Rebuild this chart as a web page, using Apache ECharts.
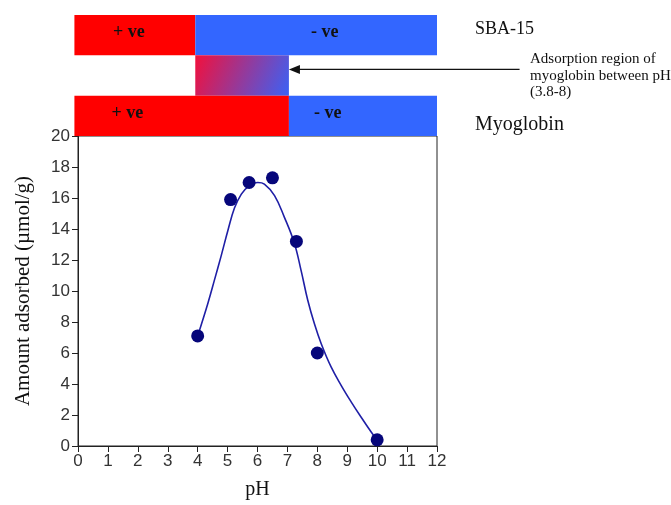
<!DOCTYPE html>
<html>
<head>
<meta charset="utf-8">
<script src="https://cdn.jsdelivr.net/npm/echarts@6/dist/echarts.min.js"></script>
<style>
  html, body { margin: 0; padding: 0; background: #fff; }
  #chart { width: 671px; height: 505px; }
</style>
</head>
<body>
<div id="chart"></div>
<script>
// measured points (pH, amount adsorbed)
const pointsPH = [4.0, 5.1, 5.72, 6.5, 7.3, 8.0, 10.0];
const pointsAmount = [7.1, 15.9, 17.0, 17.3, 13.2, 6.0, 0.4];

// fitted curve
const curvePH = [4.0, 4.34, 4.56, 4.79, 5.01, 5.23, 5.46, 5.68, 6.01, 6.23, 6.57, 6.9, 7.23, 7.46, 7.68, 7.9, 8.13, 8.46, 8.8, 9.13, 9.46, 9.8, 10.0];
const curveAmount = [7.1, 9.2, 10.7, 12.3, 13.9, 15.35, 16.25, 16.72, 17.0, 16.9, 16.15, 14.75, 13.1, 11.3, 9.4, 7.9, 6.6, 5.1, 3.9, 2.85, 1.87, 0.9, 0.37];

// charge bars above the plot: [from pH, to pH, row, colour]
const chargeBars = [
  [-0.12, 3.92, 0, 'red'],
  [3.92, 12, 0, 'blue'],
  [3.92, 7.05, 1, 'mix'],
  [-0.12, 7.05, 2, 'red'],
  [7.05, 12, 2, 'blue']
];
// charge labels: [pH, row, text]
const chargeLabels = [
  [1.7, 0, '+ ve'],
  [8.25, 0, '- ve'],
  [1.65, 2, '+ ve'],
  [8.35, 2, '- ve']
];
// arrow pointing to the adsorption region: [from pH, to pH, row]
const arrowLine = [[14.76, 7.05, 1.35]];

const xTicks = [0, 12, 1];
const yTicks = [0, 20, 2];

const chart = echarts.init(document.getElementById('chart'));

const colours = {
  red: '#ff0000',
  blue: '#3366ff',
  mix: new echarts.graphic.LinearGradient(0, 0, 1, 1, [
    { offset: 0, color: '#f2103c' },
    { offset: 1, color: '#3a62f6' }
  ])
};

const option = {
  animation: false,
  backgroundColor: '#fff',
  grid: [
    {
      left: 78, right: 234, top: 136, bottom: 59,
      show: true, borderColor: '#222', borderWidth: 1
    },
    { left: 78, right: 234, top: 15, height: 121 }
  ],
  xAxis: [
    {
      type: 'value', gridIndex: 0,
      min: xTicks[0], max: xTicks[1], interval: xTicks[2],
      name: 'pH', nameLocation: 'middle', nameGap: 34,
      nameTextStyle: { fontFamily: 'Liberation Serif', fontSize: 20, color: '#111' },
      axisLine: { lineStyle: { color: '#222', width: 1 } },
      axisTick: { show: true, inside: false, length: 6, lineStyle: { color: '#222' } },
      axisLabel: { fontFamily: 'Liberation Sans', fontSize: 17, color: '#333', margin: 7 },
      splitLine: { show: false }
    },
    {
      type: 'value', gridIndex: 1, min: xTicks[0], max: xTicks[1], show: false
    }
  ],
  yAxis: [
    {
      type: 'value', gridIndex: 0,
      min: yTicks[0], max: yTicks[1], interval: yTicks[2],
      name: 'Amount adsorbed (\u00b5mol/g)', nameLocation: 'middle', nameGap: 44,
      nameTextStyle: { fontFamily: 'Liberation Serif', fontSize: 21, color: '#111' },
      axisLine: { show: true, lineStyle: { color: '#222', width: 1 } },
      axisTick: { show: true, inside: false, length: 6, lineStyle: { color: '#222' } },
      axisLabel: { fontFamily: 'Liberation Sans', fontSize: 17, color: '#333', margin: 8 },
      splitLine: { show: false }
    },
    {
      type: 'value', gridIndex: 1, min: 0, max: 3, inverse: true, show: false
    }
  ],
  graphic: [
    { type: 'text', left: 475, top: 20,
      style: { text: 'SBA-15', font: '18px "Liberation Serif"', fill: '#111' } },
    { type: 'text', left: 530, top: 51,
      style: { text: 'Adsorption region of\nmyoglobin between pH\n(3.8-8)',
        font: '15px "Liberation Serif"', lineHeight: 16.5, fill: '#111' } },
    { type: 'text', left: 475, top: 115,
      style: { text: 'Myoglobin', font: '20px "Liberation Serif"', fill: '#111' } }
  ],
  series: [
    {
      type: 'custom', xAxisIndex: 1, yAxisIndex: 1,
      data: chargeBars,
      renderItem: function (params, api) {
        const row = api.value(2);
        const a = api.coord([api.value(0), row]);
        const b = api.coord([api.value(1), row + 1]);
        const key = chargeBars[params.dataIndex][3];
        return {
          type: 'rect',
          shape: {
            x: Math.min(a[0], b[0]), y: Math.min(a[1], b[1]),
            width: Math.abs(b[0] - a[0]), height: Math.abs(b[1] - a[1])
          },
          style: { fill: colours[key] }
        };
      }
    },
    {
      type: 'custom', xAxisIndex: 1, yAxisIndex: 1,
      data: chargeLabels,
      renderItem: function (params, api) {
        const p = api.coord([api.value(0), api.value(1) + 0.43]);
        return {
          type: 'text',
          x: p[0], y: p[1],
          style: {
            text: chargeLabels[params.dataIndex][2],
            font: 'bold 18px "Liberation Serif"', fill: '#111',
            align: 'center', verticalAlign: 'middle'
          }
        };
      }
    },
    {
      type: 'custom', xAxisIndex: 1, yAxisIndex: 1,
      data: arrowLine,
      renderItem: function (params, api) {
        const a = api.coord([api.value(0), api.value(2)]);
        const b = api.coord([api.value(1), api.value(2)]);
        return {
          type: 'group',
          children: [
            { type: 'line', shape: { x1: a[0], y1: a[1], x2: b[0] + 8, y2: b[1] },
              style: { stroke: '#111', lineWidth: 1.3 } },
            { type: 'polygon',
              shape: { points: [[b[0], b[1]], [b[0] + 11, b[1] - 4.5], [b[0] + 11, b[1] + 4.5]] },
              style: { fill: '#111' } }
          ]
        };
      }
    },
    {
      type: 'line', xAxisIndex: 0, yAxisIndex: 0,
      data: curvePH.map((x, i) => [x, curveAmount[i]]),
      smooth: 0.4, showSymbol: false, symbol: 'none',
      lineStyle: { color: '#1f1fa6', width: 1.6 },
      z: 2
    },
    {
      type: 'scatter', xAxisIndex: 0, yAxisIndex: 0,
      data: pointsPH.map((x, i) => [x, pointsAmount[i]]),
      symbol: 'circle', symbolSize: 13,
      itemStyle: { color: '#06067a', opacity: 1 },
      z: 3
    }
  ]
};

chart.setOption(option);
</script>
</body>
</html>
